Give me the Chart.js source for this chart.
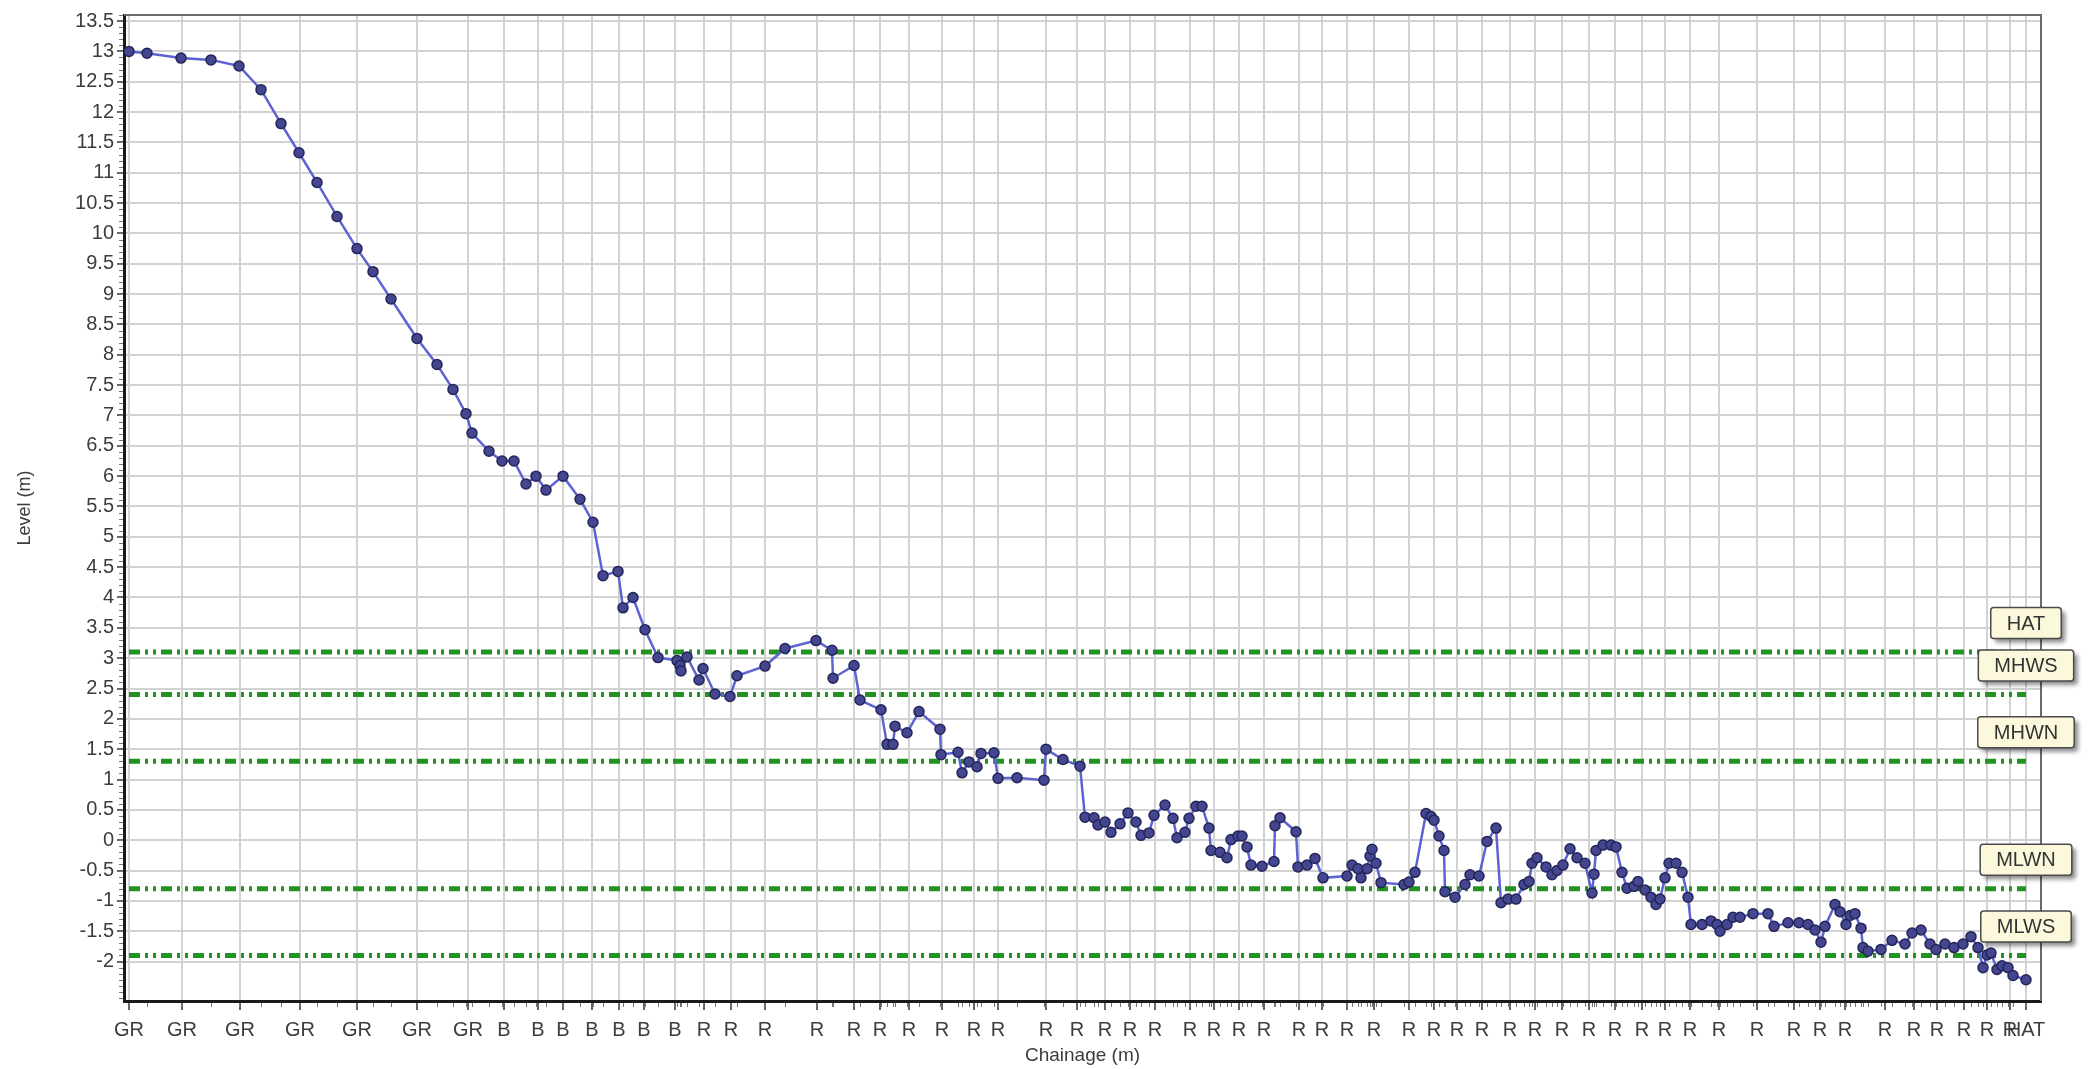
<!DOCTYPE html>
<html>
<head>
<meta charset="utf-8">
<title>Beach profile</title>
<script src="https://cdn.jsdelivr.net/npm/chart.js@4.4.1/dist/chart.umd.min.js"></script>
<style>
  html, body { margin: 0; padding: 0; background: #fff; }
  #wrap { width: 2092px; height: 1069px; }
</style>
</head>
<body>
<div id="wrap"><canvas id="profileChart" width="2092" height="1069"></canvas></div>
<script>
// surveyed points: chainage (m) and level (m)
const chainage = [
  0.0, 1.8, 5.2, 8.2, 11.0, 13.2, 15.2, 17.0, 18.8, 20.8,
  22.8, 24.4, 26.2, 28.8, 30.8, 32.4, 33.7, 34.3, 36.0, 37.3,
  38.5, 39.7, 40.7, 41.7, 43.4, 45.1, 46.4, 47.4, 48.9, 49.4,
  50.4, 51.6, 52.9, 54.8, 55.1, 55.2, 55.8, 57.0, 57.4, 58.6,
  60.1, 60.8, 63.6, 65.6, 68.7, 70.3, 70.4, 72.5, 73.1, 75.2,
  75.8, 76.4, 76.6, 77.8, 79.0, 81.1, 81.2, 82.9, 83.3, 84.0,
  84.8, 85.2, 86.5, 86.9, 88.8, 91.5, 91.7, 93.4, 95.1, 95.6,
  96.5, 96.9, 97.6, 98.2, 99.1, 99.9, 100.7, 101.2, 102.0, 102.5,
  103.6, 104.4, 104.8, 105.6, 106.0, 106.7, 107.3, 108.0, 108.2, 109.1,
  109.8, 110.2, 110.9, 111.3, 111.8, 112.2, 113.3, 114.5, 114.6, 115.1,
  116.7, 116.9, 117.8, 118.6, 119.4, 121.8, 122.3, 122.9, 123.2, 123.8,
  124.1, 124.3, 124.7, 125.2, 127.5, 128.0, 128.6, 129.7, 130.2, 130.5,
  131.0, 131.5, 131.6, 132.6, 133.6, 134.1, 135.0, 135.8, 136.7, 137.2,
  137.9, 138.7, 139.5, 140.0, 140.3, 140.8, 141.7, 142.3, 142.8, 143.4,
  144.1, 144.8, 145.6, 146.3, 146.5, 146.7, 147.4, 148.2, 148.7, 149.3,
  149.8, 150.5, 150.9, 151.6, 152.2, 152.7, 153.1, 153.6, 154.0, 154.7,
  155.3, 155.9, 156.2, 157.3, 158.2, 158.8, 159.1, 159.8, 160.4, 161.1,
  162.4, 163.9, 164.5, 165.9, 167.0, 167.9, 168.6, 169.2, 169.6, 170.6,
  171.1, 171.7, 172.1, 172.6, 173.2, 173.4, 173.9, 175.2, 176.3, 177.6,
  178.3, 179.2, 180.1, 180.7, 181.6, 182.5, 183.4, 184.2, 184.9, 185.4,
  185.8, 186.2, 186.8, 187.3, 187.9, 188.4, 189.7
];
const level = [
  13.00, 12.97, 12.89, 12.86, 12.76, 12.37, 11.81, 11.33, 10.84, 10.28,
  9.75, 9.37, 8.92, 8.27, 7.84, 7.43, 7.03, 6.71, 6.41, 6.25,
  6.25, 5.87, 6.00, 5.77, 6.00, 5.62, 5.24, 4.36, 4.43, 3.83,
  4.00, 3.47, 3.01, 2.96, 2.88, 2.79, 3.02, 2.64, 2.83, 2.41,
  2.37, 2.71, 2.87, 3.16, 3.29, 3.13, 2.67, 2.88, 2.31, 2.15,
  1.58, 1.58, 1.88, 1.77, 2.12, 1.83, 1.41, 1.45, 1.11, 1.29,
  1.21, 1.43, 1.44, 1.02, 1.03, 0.99, 1.50, 1.33, 1.22, 0.38,
  0.37, 0.25, 0.30, 0.13, 0.27, 0.45, 0.30, 0.08, 0.12, 0.41,
  0.58, 0.36, 0.04, 0.13, 0.36, 0.56, 0.56, 0.20, -0.17, -0.20,
  -0.29, 0.01, 0.07, 0.07, -0.11, -0.41, -0.43, -0.35, 0.24, 0.37,
  0.14, -0.44, -0.41, -0.30, -0.62, -0.59, -0.41, -0.47, -0.62, -0.47,
  -0.26, -0.15, -0.38, -0.70, -0.73, -0.69, -0.53, 0.44, 0.39, 0.33,
  0.07, -0.17, -0.85, -0.94, -0.73, -0.57, -0.59, -0.02, 0.20, -1.03,
  -0.97, -0.97, -0.73, -0.68, -0.38, -0.29, -0.44, -0.57, -0.50, -0.41,
  -0.14, -0.29, -0.38, -0.87, -0.56, -0.17, -0.08, -0.08, -0.11, -0.53,
  -0.79, -0.76, -0.68, -0.82, -0.94, -1.06, -0.97, -0.62, -0.38, -0.38,
  -0.53, -0.94, -1.39, -1.39, -1.33, -1.39, -1.50, -1.39, -1.27, -1.27,
  -1.21, -1.21, -1.42, -1.36, -1.36, -1.39, -1.48, -1.68, -1.42, -1.06,
  -1.18, -1.39, -1.24, -1.21, -1.45, -1.77, -1.83, -1.80, -1.65, -1.71,
  -1.53, -1.48, -1.71, -1.80, -1.71, -1.77, -1.71, -1.59, -1.77, -2.10,
  -1.89, -1.86, -2.13, -2.07, -2.10, -2.23, -2.30
];

// feature codes shown along the chainage axis
const tickChainage = [
  0, 5.3, 11.1, 17.1, 22.8, 28.8, 33.9,
  37.5, 40.9, 43.4, 46.3, 49.0, 51.5, 54.6,
  57.5, 60.2, 63.6, 68.8, 72.5, 75.1, 78.0, 81.3, 84.5, 86.9, 91.7, 94.8,
  97.6, 100.1, 102.6, 106.1, 108.5, 111.0, 113.5, 117.0, 119.3, 121.8,
  124.5, 128.0, 130.5, 132.8, 135.3, 138.1, 140.6, 143.3,
  146.0, 148.6, 151.3, 153.6, 156.1, 159.0, 162.8, 166.5, 169.1, 171.6,
  175.6, 178.5, 180.8, 183.5, 185.8, 188.1,
  189.7
];
const tickCodes = [
  "GR", "GR", "GR", "GR", "GR", "GR", "GR",
  "B", "B", "B", "B", "B", "B", "B",
  "R", "R", "R", "R", "R", "R", "R", "R", "R", "R", "R", "R",
  "R", "R", "R", "R", "R", "R", "R", "R", "R", "R",
  "R", "R", "R", "R", "R", "R", "R", "R",
  "R", "R", "R", "R", "R", "R", "R", "R", "R", "R",
  "R", "R", "R", "R", "R", "R",
  "HAT"
];
const levelTicks = [
  -2, -1.5, -1, -0.5, 0, 0.5, 1, 1.5, 2, 2.5, 3, 3.5, 4, 4.5, 5, 5.5,
  6, 6.5, 7, 7.5, 8, 8.5, 9, 9.5, 10, 10.5, 11, 11.5, 12, 12.5, 13, 13.5
];

// tide levels (m)
const tideNames = ["HAT", "MHWS", "MHWN", "MLWN", "MLWS"];
const tideLevels = [3.1, 2.4, 1.3, -0.8, -1.9];

const FONT = "'Liberation Sans', Arial, sans-serif";
Chart.defaults.font.family = FONT;
Chart.defaults.font.size = 20;
Chart.defaults.color = "#3c3c3c";

const profilePoints = chainage.map((c, i) => ({ x: c, y: level[i] }));
const lastChainage = chainage[chainage.length - 1];

const tideDatasets = tideNames.map((name, i) => ({
  label: name,
  data: [{ x: chainage[0], y: tideLevels[i] }, { x: lastChainage, y: tideLevels[i] }],
  borderColor: "#219321",
  borderWidth: 5,
  borderDash: [11, 5, 3, 5, 3, 5],
  pointRadius: 0,
  fill: false,
}));

const extrasPlugin = {
  id: "extras",
  afterDraw(chart) {
    const { ctx, chartArea: a, scales: { x, y } } = chart;
    ctx.save();

    // top and right frame
    ctx.strokeStyle = "#6a6a6a";
    ctx.lineWidth = 2;
    ctx.beginPath();
    ctx.moveTo(a.left, a.top);
    ctx.lineTo(a.right, a.top);
    ctx.lineTo(a.right, a.bottom);
    ctx.stroke();

    // minor ticks on the level axis (every 0.1 m)
    ctx.strokeStyle = "#777";
    ctx.lineWidth = 1;
    ctx.beginPath();
    for (let k = Math.ceil(y.min * 10); k <= Math.floor(y.max * 10); k++) {
      const py = Math.round(y.getPixelForValue(k / 10)) + 0.5;
      ctx.moveTo(a.left - 5, py);
      ctx.lineTo(a.left - 1, py);
    }
    // minor ticks at each surveyed chainage
    chainage.forEach((c) => {
      const px = Math.round(x.getPixelForValue(c)) + 0.5;
      ctx.moveTo(px, a.bottom + 2);
      ctx.lineTo(px, a.bottom + 6);
    });
    ctx.stroke();

    // tide level labels
    ctx.font = "20px " + FONT;
    ctx.textAlign = "center";
    ctx.textBaseline = "middle";
    const cx = x.getPixelForValue(lastChainage);
    tideNames.forEach((name, i) => {
      const cy = y.getPixelForValue(tideLevels[i]) - 29;
      const w = ctx.measureText(name).width + 32;
      const h = 31;
      ctx.save();
      ctx.shadowColor = "rgba(0,0,0,0.45)";
      ctx.shadowBlur = 4;
      ctx.shadowOffsetX = 4;
      ctx.shadowOffsetY = 4;
      ctx.fillStyle = "#fbf8dc";
      ctx.beginPath();
      ctx.roundRect(cx - w / 2, cy - h / 2, w, h, 3);
      ctx.fill();
      ctx.restore();
      ctx.strokeStyle = "#4a4a4a";
      ctx.lineWidth = 1.5;
      ctx.beginPath();
      ctx.roundRect(cx - w / 2, cy - h / 2, w, h, 3);
      ctx.stroke();
      ctx.fillStyle = "#333";
      ctx.fillText(name, cx, cy + 1);
    });
    ctx.restore();
  },
};

const ctx = document.getElementById("profileChart").getContext("2d");
const profileChart = new Chart(ctx, {
  type: "line",
  data: {
    datasets: [
      {
        label: "Profile",
        data: profilePoints,
        borderColor: "#5e62d2",
        borderWidth: 2.5,
        pointRadius: 5,
        pointBackgroundColor: "#444790",
        pointBorderColor: "#23255a",
        pointBorderWidth: 1.5,
        tension: 0,
        fill: false,
      },
      ...tideDatasets,
    ],
  },
  options: {
    responsive: false,
    animation: false,
    events: [],
    layout: { padding: { top: 11, right: 51, bottom: 0, left: 0 } },
    plugins: {
      legend: { display: false },
      tooltip: { enabled: false },
    },
    scales: {
      x: {
        type: "linear",
        min: -0.5,
        max: 191.2,
        afterBuildTicks: (axis) => {
          axis.ticks = tickChainage.map((v) => ({ value: v }));
        },
        afterFit: (scale) => {
          scale.height = 68;
        },
        ticks: {
          autoSkip: false,
          maxRotation: 0,
          minRotation: 0,
          padding: 8,
          color: "#3c3c3c",
          callback: (value, index) => tickCodes[index],
        },
        grid: {
          color: "#d2d2d2",
          lineWidth: 2,
          tickColor: "#666",
          tickLength: 9,
        },
        border: { color: "#1a1a1a", width: 3 },
        title: {
          display: true,
          text: "Chainage (m)",
          font: { size: 19 },
          color: "#3c3c3c",
          padding: { top: 0, bottom: 2 },
        },
      },
      y: {
        type: "linear",
        min: -2.65,
        max: 13.6,
        afterBuildTicks: (axis) => {
          axis.ticks = levelTicks.map((v) => ({ value: v }));
        },
        afterFit: (scale) => {
          scale.width = 124;
        },
        ticks: {
          padding: 3,
          color: "#3c3c3c",
          callback: (value) => String(value),
        },
        grid: {
          color: "#d2d2d2",
          lineWidth: 2,
          tickColor: "#666",
          tickLength: 7,
        },
        border: { color: "#1a1a1a", width: 3 },
        title: {
          display: true,
          text: "Level (m)",
          font: { size: 18 },
          color: "#3c3c3c",
          padding: { top: 14, bottom: 0 },
        },
      },
    },
  },
  plugins: [extrasPlugin],
});
</script>
</body>
</html>
